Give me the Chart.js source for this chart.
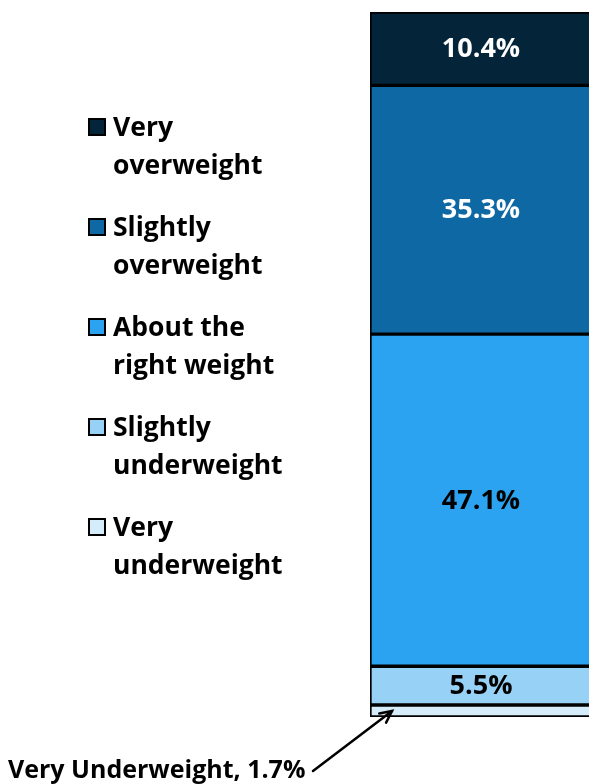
<!DOCTYPE html>
<html>
<head>
<meta charset="utf-8">
<script src="https://cdn.jsdelivr.net/npm/chart.js@4.4.1/dist/chart.umd.min.js"></script>
<style>
    html, body { margin: 0; padding: 0; background: #fff; }
    body { width: 589px; height: 784px; overflow: hidden; position: relative; font-family: 'Open Sans', sans-serif; }
    #wrap { position: absolute; left: 0; top: 0; width: 589px; height: 784px; overflow: hidden; }
    #chart-box { position: absolute; left: 0; top: 0; width: 592px; height: 784px; }
    #legend { position: absolute; left: 88px; top: 107px; margin: 0; padding: 0; list-style: none; }
    #legend li { position: relative; padding-left: 25px; font-weight: bold; font-size: 26.5px; line-height: 38px; color: #000; height: 76px; margin-bottom: 24px; }
    #legend .swatch { position: absolute; left: 0; top: 11px; width: 14px; height: 14px; border: 2px solid #000; }
</style>
</head>
<body>
<div id="wrap">
    <div id="chart-box"><canvas id="weightChart"></canvas></div>
</div>
<ul id="legend"></ul>
<script>
// Data (bottom of stack first)
const categories = ['Weight perception'];
const seriesLabels = ['Very underweight', 'Slightly underweight', 'About the right weight', 'Slightly overweight', 'Very overweight'];
const seriesValues = [1.7, 5.5, 47.1, 35.3, 10.4];
const seriesColors = ['#d5ecfb', '#97d1f6', '#2ca3f0', '#0e68a3', '#04243a'];
const labelColors = ['#000', '#000', '#000', '#fff', '#fff'];
// Legend text, top to bottom, as shown
const legendLines = [
    ['Very', 'overweight'],
    ['Slightly', 'overweight'],
    ['About the', 'right weight'],
    ['Slightly', 'underweight'],
    ['Very', 'underweight']
];
const calloutText = 'Very Underweight, 1.7%';
const calloutIndex = 0;

const FONT = "'Open Sans', sans-serif";

// -------------------------------------------------------------------------
// Legend (HTML, so the labels can wrap like the original)
// -------------------------------------------------------------------------
const legendEl = document.getElementById('legend');
legendLines.forEach((lines, i) => {
    const colorIdx = seriesColors.length - 1 - i;
    const li = document.createElement('li');
    const sw = document.createElement('span');
    sw.className = 'swatch';
    sw.style.background = seriesColors[colorIdx];
    li.appendChild(sw);
    li.appendChild(document.createTextNode(lines[0]));
    li.appendChild(document.createElement('br'));
    li.appendChild(document.createTextNode(lines[1]));
    legendEl.appendChild(li);
});

// -------------------------------------------------------------------------
// Segment labels + callout arrow
// -------------------------------------------------------------------------
const segmentLabels = {
    id: 'segmentLabels',
    afterDatasetsDraw(chart) {
        const ctx = chart.ctx;
        ctx.save();
        ctx.font = `bold 27px ${FONT}`;
        ctx.textAlign = 'center';
        ctx.textBaseline = 'middle';
        chart.data.datasets.forEach((ds, i) => {
            if (i === calloutIndex) return;
            const bar = chart.getDatasetMeta(i).data[0];
            const p = bar.getProps(['x', 'y', 'base'], true);
            ctx.fillStyle = labelColors[i];
            ctx.fillText(ds.data[0].toFixed(1) + '%', p.x, (p.y + p.base) / 2 + 1);
        });

        // callout for the thin bottom segment
        const bar = chart.getDatasetMeta(calloutIndex).data[0];
        const p = bar.getProps(['x', 'y', 'base', 'width'], true);
        const tipX = p.x - p.width / 2 + 22;
        const tipY = (p.y + p.base) / 2;
        const tailX = 313, tailY = 771;
        ctx.strokeStyle = '#000';
        ctx.lineWidth = 2.5;
        ctx.lineCap = 'round';
        ctx.beginPath();
        ctx.moveTo(tailX, tailY);
        ctx.lineTo(tipX, tipY);
        ctx.stroke();
        const ang = Math.atan2(tipY - tailY, tipX - tailX);
        const head = 13;
        ctx.beginPath();
        ctx.moveTo(tipX - head * Math.cos(ang - 0.45), tipY - head * Math.sin(ang - 0.45));
        ctx.lineTo(tipX, tipY);
        ctx.lineTo(tipX - head * Math.cos(ang + 0.45), tipY - head * Math.sin(ang + 0.45));
        ctx.stroke();

        ctx.font = `bold 25px ${FONT}`;
        ctx.fillStyle = '#000';
        ctx.textAlign = 'left';
        ctx.textBaseline = 'alphabetic';
        ctx.fillText(calloutText, 8, 778);
        ctx.restore();
    }
};

new Chart(document.getElementById('weightChart'), {
    type: 'bar',
    data: {
        labels: categories,
        datasets: seriesLabels.map((name, i) => ({
            label: name,
            data: [seriesValues[i]],
            backgroundColor: seriesColors[i],
            borderColor: '#000',
            borderWidth: 2,
            borderSkipped: false,
            barPercentage: 1,
            categoryPercentage: 1
        }))
    },
    options: {
        responsive: true,
        maintainAspectRatio: false,
        animation: false,
        layout: { padding: { left: 370, right: 0, top: 12, bottom: 67 } },
        plugins: {
            legend: { display: false },
            tooltip: { enabled: false }
        },
        scales: {
            x: { stacked: true, display: false },
            y: { stacked: true, display: false, min: 0, max: 100 }
        }
    },
    plugins: [segmentLabels]
});
</script>
</body>
</html>
